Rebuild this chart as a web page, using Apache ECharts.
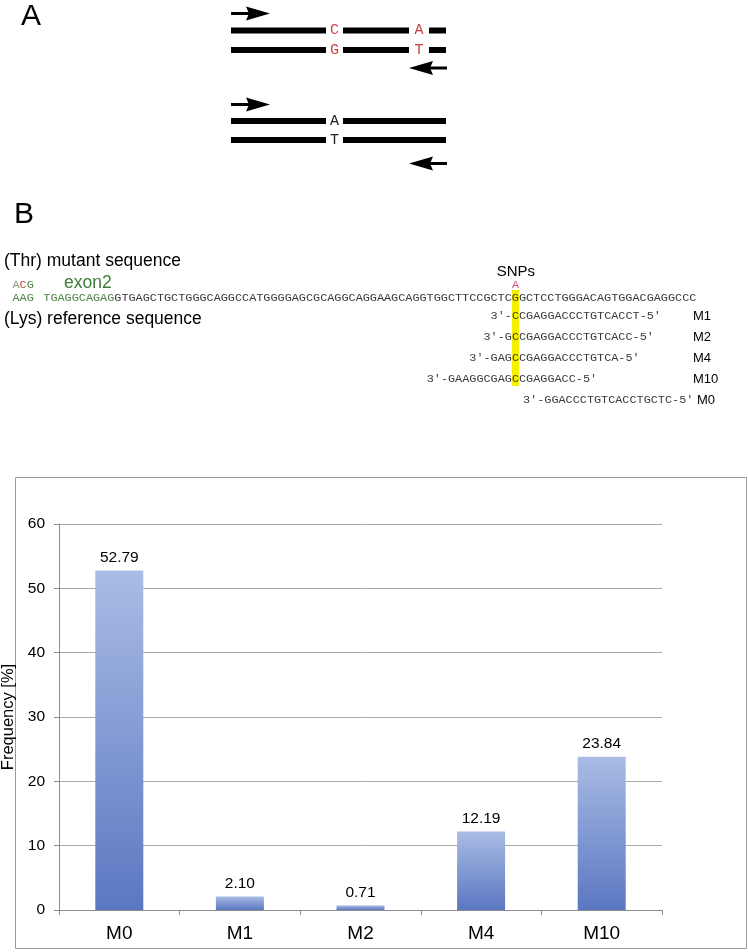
<!DOCTYPE html>
<html>
<head>
<meta charset="utf-8">
<script src="https://cdn.jsdelivr.net/npm/echarts@6/dist/echarts.min.js"></script>
<style>
html,body{margin:0;padding:0;background:#fff;}
#chart{width:748px;height:952px;}
</style>
</head>
<body>
<div id="chart"></div>
<script>
// ---- chart data ----
const categories = ['M0', 'M1', 'M2', 'M4', 'M10'];
const frequency = [52.79, 2.10, 0.71, 12.19, 23.84];
const yAxisName = 'Frequency [%]';

// ---- sequence panel text ----
const exonPrefix = 'TGAGGCAGAG';
const refBefore = 'GTGAGCTGCTGGGCAGGCCATGGGGAGCGCAGGCAGGAAGCAGGTGGCTTCCGCTC';
const snpBase = 'G';
const refAfter = 'GCTCCTGGGACAGTGGACGAGGCCC';
const primerNames = ['M1', 'M2', 'M4', 'M10'];
const primerPrefix = ['3\u2032-', '3\u2032-G', '3\u2032-GAG', '3\u2032-GAAGGCGAG'];
const primerRest = ['CCGAGGACCCTGTCACCT-5\u2032', 'CCGAGGACCCTGTCACC-5\u2032', 'CCGAGGACCCTGTCA-5\u2032', 'CCGAGGACC-5\u2032'];
const primerM0 = '3\u2032-GGACCCTGTCACCTGCTC-5\u2032';

const charW = 7.1;
const monoSize = charW / 0.6;
const MONO = monoSize.toFixed(2) + 'px "Liberation Mono", monospace';
const SANS = '"Liberation Sans", Arial, sans-serif';
const RED = '#cf3f3f';
const GREEN = '#4e8445';

function txt(text, x, y, font, fill, align, valign) {
  return { type: 'text', style: { text: text, x: x, y: y, font: font, fill: fill,
    align: align || 'left', verticalAlign: valign || 'middle',
    textAlign: align || 'left', textVerticalAlign: valign || 'middle' }, silent: true };
}
function bar(x1, x2, y, h) {
  return { type: 'rect', shape: { x: x1, y: y - h / 2, width: x2 - x1, height: h }, style: { fill: '#000' }, silent: true };
}
function arrowRight(x1, x2, y) {
  return [
    { type: 'rect', shape: { x: x1, y: y - 1.5, width: x2 - x1 - 20, height: 3 }, style: { fill: '#000' }, silent: true },
    { type: 'polygon', shape: { points: [[x2 - 24, y - 7], [x2, y], [x2 - 24, y + 7], [x2 - 21, y]] }, style: { fill: '#000' }, silent: true }
  ];
}
function arrowLeft(x1, x2, y) {
  return [
    { type: 'rect', shape: { x: x1 + 20, y: y - 1.5, width: x2 - x1 - 20, height: 3 }, style: { fill: '#000' }, silent: true },
    { type: 'polygon', shape: { points: [[x1 + 24, y - 7], [x1, y], [x1 + 24, y + 7], [x1 + 21, y]] }, style: { fill: '#000' }, silent: true }
  ];
}

const graphics = [];
// Panel A
graphics.push(txt('A', 31, 17, '30px ' + SANS, '#000', 'center'));
graphics.push(...arrowRight(231, 270, 13.5));
graphics.push(bar(231, 326, 30.5, 6), bar(343, 409, 30.5, 6), bar(429, 446, 30.5, 6));
graphics.push(bar(231, 326, 50, 6), bar(343, 409, 50, 6), bar(429, 446, 50, 6));
graphics.push(txt('C', 334.5, 30.5, '15px "Liberation Mono", monospace', RED, 'center'));
graphics.push(txt('A', 419, 30.5, '15px "Liberation Mono", monospace', RED, 'center'));
graphics.push(txt('G', 334.5, 50, '15px "Liberation Mono", monospace', RED, 'center'));
graphics.push(txt('T', 419, 50, '15px "Liberation Mono", monospace', RED, 'center'));
graphics.push(...arrowLeft(409, 447, 68));
graphics.push(...arrowRight(231, 270, 104.5));
graphics.push(bar(231, 326, 121, 6), bar(343, 446, 121, 6));
graphics.push(bar(231, 326, 140, 6), bar(343, 446, 140, 6));
graphics.push(txt('A', 334.5, 121, '15px "Liberation Mono", monospace', '#222', 'center'));
graphics.push(txt('T', 334.5, 140, '15px "Liberation Mono", monospace', '#222', 'center'));
graphics.push(...arrowLeft(409, 447, 163.5));

// Panel B
const seqX = 43.3;
const snpX = seqX + (exonPrefix.length + refBefore.length) * charW;
graphics.push({ type: 'rect', shape: { x: snpX, y: 290, width: charW, height: 96 }, style: { fill: '#f5f000' }, silent: true });
graphics.push(txt('B', 24, 215, '30px ' + SANS, '#000', 'center'));
graphics.push(txt('(Thr) mutant sequence', 4, 261, '17.5px ' + SANS, '#000'));
graphics.push(txt('(Lys) reference sequence', 4, 319, '17.5px ' + SANS, '#000'));
graphics.push(txt('A', 12.5, 285, MONO, '#7f9c76'));
graphics.push(txt('C', 12.5 + charW, 285, MONO, RED));
graphics.push(txt('G', 12.5 + 2 * charW, 285, MONO, GREEN));
graphics.push(txt('exon2', 64, 283, '17.5px ' + SANS, '#3f7a3a'));
graphics.push(txt('AAG', 12.5, 298, MONO, GREEN));
graphics.push(txt(exonPrefix, seqX, 298, MONO, GREEN));
graphics.push(txt(refBefore + snpBase + refAfter, seqX + exonPrefix.length * charW, 298, MONO, '#3a3a3a'));
graphics.push(txt('SNPs', snpX + 4, 272, '15px ' + SANS, '#000', 'center'));
graphics.push(txt('A', snpX + charW / 2, 285, MONO, '#d2557a', 'center'));
const rowY = [316, 337, 358, 379];
for (let i = 0; i < primerNames.length; i++) {
  graphics.push(txt(primerPrefix[i], snpX, rowY[i], MONO, '#3a3a3a', 'right'));
  graphics.push(txt(primerRest[i], snpX, rowY[i], MONO, '#3a3a3a', 'left'));
  graphics.push(txt(primerNames[i], 693, rowY[i], '13px ' + SANS, '#000', 'left'));
}
graphics.push(txt(primerM0, 523, 400, MONO, '#3a3a3a', 'left'));
graphics.push(txt('M0', 697, 400, '13px ' + SANS, '#000', 'left'));

// chart frame
graphics.push({ type: 'rect', shape: { x: 15.5, y: 477.5, width: 731, height: 471 }, style: { fill: 'none', stroke: '#9a9a9a', lineWidth: 1 }, silent: true, z: -1 });

const chart = echarts.init(document.getElementById('chart'), null, { renderer: 'canvas' });
chart.setOption({
  animation: false,
  backgroundColor: '#fff',
  textStyle: { fontFamily: SANS },
  graphic: graphics,
  grid: { left: 59, right: 86, top: 524, bottom: 42, containLabel: false, outerBoundsMode: 'none' },
  xAxis: {
    type: 'category',
    data: categories,
    axisLine: { lineStyle: { color: '#8c8c8c' } },
    axisTick: { show: true, length: 5, lineStyle: { color: '#8c8c8c' } },
    axisLabel: { fontSize: 19, color: '#000', margin: 14, fontFamily: SANS }
  },
  yAxis: {
    type: 'value',
    min: 0, max: 60, interval: 10,
    name: yAxisName,
    nameLocation: 'middle',
    nameRotate: 90,
    nameGap: 41,
    nameTextStyle: { fontSize: 16.5, color: '#000', fontFamily: SANS },
    axisLine: { show: true, lineStyle: { color: '#8c8c8c' } },
    axisTick: { show: true, length: 5, lineStyle: { color: '#8c8c8c' } },
    axisLabel: { fontSize: 15.5, color: '#000', margin: 14, fontFamily: SANS },
    splitLine: { lineStyle: { color: '#a8a8a8' } }
  },
  series: [{
    type: 'bar',
    data: frequency,
    barWidth: 48,
    itemStyle: {
      color: new echarts.graphic.LinearGradient(0, 0, 0, 1, [
        { offset: 0, color: '#a9bce5' },
        { offset: 1, color: '#5b77c1' }
      ])
    },
    label: {
      show: true, position: 'top', distance: 5, fontSize: 15.5, color: '#000', fontFamily: SANS,
      formatter: p => p.value.toFixed(2)
    }
  }]
});
</script>
</body>
</html>
